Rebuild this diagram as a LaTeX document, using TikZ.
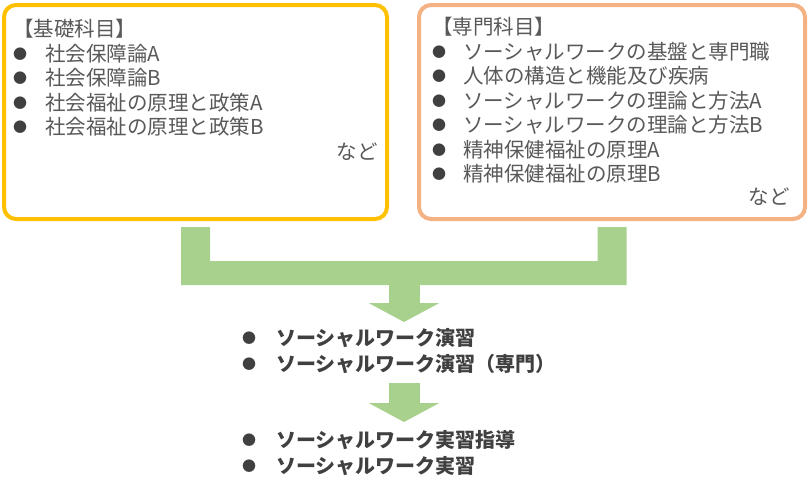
\documentclass[tikz,border=0pt]{standalone}
\usepackage{fontspec}
\setmainfont{Noto Sans CJK JP}
\usepackage{tikz}
\usetikzlibrary{positioning,arrows.meta}
\definecolor{gold}{RGB}{255,192,0}
\definecolor{peach}{RGB}{244,177,131}
\definecolor{leaf}{RGB}{169,209,142}
\definecolor{ink}{RGB}{64,64,64}
\definecolor{txt}{RGB}{89,89,89}
\newcommand{\bul}[1]{\makebox[#1][l]{\raisebox{2pt}{\fontsize{14}{14}\selectfont\color{ink}●}}}

\begin{document}
\begin{tikzpicture}[x=1pt,y=-1pt,
 box/.style={draw=#1,line width=4pt,rounded corners=12pt,fill=white,minimum height=214pt,inner sep=0pt},
 lst/.style={anchor=north west,align=left,inner sep=0pt,text=txt,font=\fontsize{20.5}{24.5}\selectfont},
 plst/.style={anchor=north west,align=left,inner sep=0pt,text=ink,font=\bfseries\fontsize{20}{26}\selectfont},
 flow/.style={draw=leaf,line width=31pt,-{Triangle[width=70pt,length=19pt]}}]
 \useasboundingbox (0,0) rectangle (809,480);
 \node[box=gold,minimum width=383pt](kiso) at (195.5,112){};
 \node[box=peach,minimum width=386pt](senmon) at (612,112){};
 \node[lst](kisolst) at (13,19){【基礎科目】\\\bul{32pt}社会保障論A\\\bul{32pt}社会保障論B\\\bul{32pt}社会福祉の原理と政策A\\\bul{32pt}社会福祉の原理と政策B};
 \node[lst,anchor=east](kisonado) at (378,152){など};
 \node[lst](senmonlst) at (432,17){【専門科目】\\\bul{31pt}ソーシャルワークの基盤と専門職\\\bul{31pt}人体の構造と機能及び疾病\\\bul{31pt}ソーシャルワークの理論と方法A\\\bul{31pt}ソーシャルワークの理論と方法B\\\bul{31pt}精神保健福祉の原理A\\\bul{31pt}精神保健福祉の原理B};
 \node[lst,anchor=east](senmonnado) at (790,197){など};
 \fill[leaf] ([xshift=-14.5pt,yshift=-6pt]kiso.south) -- ++(29,0) -- ++(0,34) -| ([xshift=-14.5pt,yshift=-6pt]senmon.south) -- ++(29,0) -- ++(0,58) -| ([xshift=-14.5pt,yshift=-6pt]kiso.south) -- cycle;
 \coordinate (merge) at (404,283);
 \coordinate (tip1) at (404,322);
 \node[plst](enshu) at (242,328){\bul{34pt}ソーシャルワーク演習\\\bul{34pt}ソーシャルワーク演習（専門）};
 \coordinate (from2) at (404,383);
 \coordinate (tip2) at (404,422);
 \node[plst](jisshu) at (242,430){\bul{34pt}ソーシャルワーク実習指導\\\bul{34pt}ソーシャルワーク実習};
 \draw[flow](merge)--(tip1);
 \draw[flow](from2)--(tip2);
\end{tikzpicture}
\end{document}
